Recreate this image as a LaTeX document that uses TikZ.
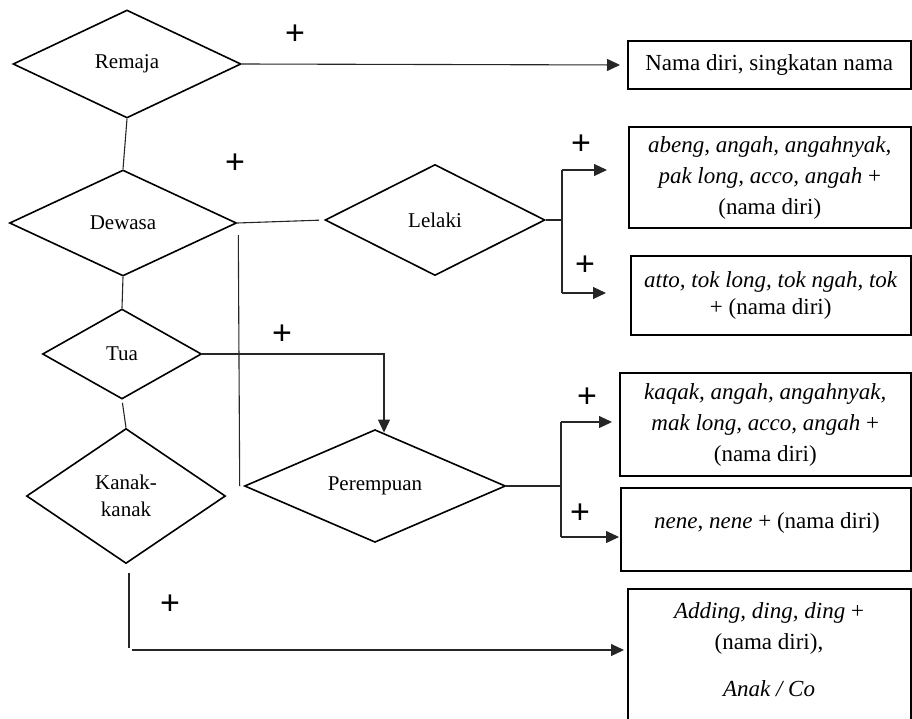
\documentclass[tikz,border=0pt]{standalone}
\usepackage{fontspec}
\setmainfont{Liberation Serif}
\newfontfamily\plusfont{Liberation Sans}
\usetikzlibrary{shapes.geometric,arrows.meta,calc}

\begin{document}
\begin{tikzpicture}[x=1pt,y=-1pt,
  decision/.style={diamond, draw=black, line width=1.6pt, inner sep=0pt,
    font=\fontsize{21}{27}\selectfont, align=center},
  namebox/.style={rectangle, draw=black, line width=2pt, inner sep=0pt,
    font=\fontsize{23}{31}\selectfont, align=center},
  boxtext/.style={inner sep=0pt, font=\fontsize{23}{31}\selectfont, align=center},
  link/.style={line width=1.1pt, draw=black!85},
  arrowlink/.style={link, -{Triangle[length=13pt,width=12pt]}},
  plus/.style={inner sep=0pt, font=\plusfont\fontsize{34}{34}\selectfont},
]
\useasboundingbox (0,0) rectangle (912,718);

% age groups and gender
\node[decision, minimum width=228pt, minimum height=108pt] (remaja) at (127,64) {Remaja};
\node[decision, minimum width=227pt, minimum height=106pt] (dewasa) at (123,223) {Dewasa};
\node[decision, minimum width=159pt, minimum height=90pt]  (tua)    at (122,354) {Tua};
\node[decision, minimum width=199pt, minimum height=135pt] (kanak)  at (126,496) {Kanak-\\kanak};
\node[decision, minimum width=220pt, minimum height=111pt] (lelaki) at (435,220) {Lelaki};
\node[decision, minimum width=261pt, minimum height=106pt] (per)    at (375,486) {Perempuan};

% forms of address
\node[namebox, minimum width=282.5pt, minimum height=48pt] (b1) at (769.25,65)
  {Nama diri, singkatan nama};
\node[namebox, minimum width=281.5pt, minimum height=101pt] (b2) at (769.75,177.5)
  {\textit{abeng, angah, angahnyak,}\\ \textit{pak long, acco, angah} +\\ (nama diri)};
\node[namebox, minimum width=279.5pt, minimum height=79pt,
      font=\fontsize{23}{27}\selectfont] (b3) at (770.75,295.5)
  {\textit{atto, tok long, tok ngah, tok}\\ + (nama diri)};
\node[namebox, minimum width=290.5pt, minimum height=103pt] (b4) at (765.25,424.5)
  {\textit{kaqak, angah, angahnyak,}\\ \textit{mak long, acco, angah} +\\ (nama diri)};
\node[namebox, minimum width=289.5pt, minimum height=83pt] (b5) at (765.75,529.5) {};
\node[boxtext] (t5) at (767,523) {\textit{nene}, \textit{nene} + (nama diri)};
\node[namebox, minimum width=282.5pt, minimum height=171pt] (b6) at (769.25,674.5) {};
\node[boxtext, font=\fontsize{23}{31}\selectfont] (t6) at (769,650)
  {\textit{Adding, ding, ding} +\\ (nama diri),\\[16pt] \textit{Anak / Co}};

% main spine
\draw[link] (remaja.south) -- (dewasa.north);
\draw[link] (dewasa.south) -- (tua.north);
\draw[link, shorten <=3pt] (tua.south) -- (kanak.north);

% remaja
\draw[arrowlink, shorten >=7pt] (remaja.east) -- (b1.west);

% dewasa
\draw[link, shorten >=5pt] (dewasa.east) -- (lelaki.west);
\draw[link] ($(dewasa.east)+(1,12)$) -- ($(per.west)+(-4,0)$);

% tua
\draw[arrowlink] (tua.east) -| ($(per.north)+(9,3.7)$);

% lelaki branch
\coordinate (lj) at ($(lelaki.east)+(17,0)$);
\coordinate (lt) at (562,170);
\coordinate (lb) at (562,293);
\draw[link] (lelaki.east) -- (lj);
\draw[link] (lt) -- (lb);
\draw[arrowlink, shorten >=21pt] (lt) -- (lt -| b2.west);
\draw[arrowlink, shorten >=24pt] (lb) -- (lb -| b3.west);

% perempuan branch
\coordinate (pj) at ($(per.east)+(55,0)$);
\coordinate (pt) at (561,422);
\coordinate (pb) at (561,537);
\draw[link] (per.east) -- (pj);
\draw[link] (pt) -- (pb);
\draw[arrowlink, shorten >=7pt] (pt) -- (pt -| b4.west);
\draw[arrowlink, shorten >=1pt] (pb) -- (pb -| b5.west);

% kanak-kanak
\coordinate (kt) at (129,573);
\coordinate (kb) at (129,648);
\coordinate (kh) at (132,650);
\draw[link] (kt) -- (kb);
\draw[arrowlink, shorten >=3pt] (kh) -- (kh -| b6.west);

% plus signs
\node[plus] (p1) at (295,35)  {+};
\node[plus] (p2) at (235,164) {+};
\node[plus] (p3) at (581,145) {+};
\node[plus] (p4) at (585,266) {+};
\node[plus] (p5) at (282,335) {+};
\node[plus] (p6) at (587,398) {+};
\node[plus] (p7) at (580,514) {+};
\node[plus] (p8) at (170,605) {+};
\end{tikzpicture}
\end{document}
